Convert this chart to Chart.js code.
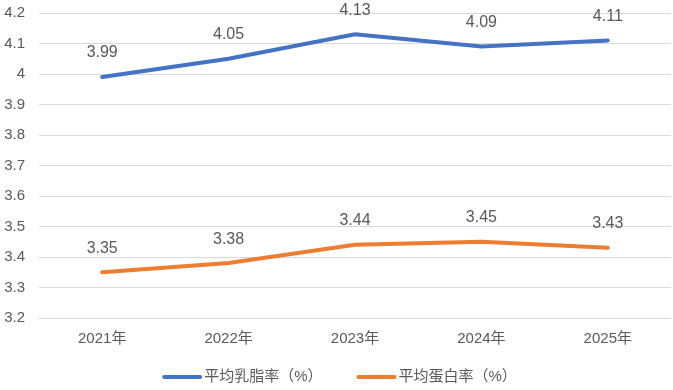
<!DOCTYPE html>
<html><head><meta charset="utf-8">
<script src="https://cdn.jsdelivr.net/npm/chart.js@4"></script>
<style>html,body{margin:0;padding:0;background:#fff}#wrap{width:673px;height:390px}</style>
</head><body><div id="wrap"><canvas id="c"></canvas></div>
<script>
const categories = ['2021年','2022年','2023年','2024年','2025年'];
const fatRate = [3.99, 4.05, 4.13, 4.09, 4.11];
const proteinRate = [3.35, 3.38, 3.44, 3.45, 3.43];
const seriesNames = ['平均乳脂率（%）','平均蛋白率（%）'];

const FONT = '"Liberation Sans", "Noto Sans CJK SC", sans-serif';
const TEXT = '#595959';

const labelPlugin = {
  id: 'valLabels',
  afterDatasetsDraw(chart) {
    const ctx = chart.ctx;
    ctx.save();
    ctx.font = '16px ' + FONT;
    ctx.fillStyle = TEXT;
    ctx.textAlign = 'center';
    ctx.textBaseline = 'middle';
    chart.data.datasets.forEach((ds, i) => {
      chart.getDatasetMeta(i).data.forEach((pt, j) => {
        ctx.fillText(ds.data[j].toFixed(2), pt.x, pt.y - 24);
      });
    });
    ctx.restore();
  }
};

const legendPlugin = {
  id: 'bottomLegend',
  afterDraw(chart) {
    const ctx = chart.ctx;
    ctx.save();
    ctx.font = '15px ' + FONT;
    const lineW = 40, gapText = 2, gapItem = 34;
    const items = chart.data.datasets.map(ds => ({ text: ds.label, color: ds.borderColor, w: ctx.measureText(ds.label).width }));
    let total = items.reduce((s, it) => s + lineW + gapText + it.w, 0) + gapItem * (items.length - 1);
    let x = (chart.width - total) / 2 + 3;
    const y = 377;
    items.forEach(it => {
      ctx.strokeStyle = it.color;
      ctx.lineWidth = 4;
      ctx.lineCap = 'round';
      ctx.beginPath();
      ctx.moveTo(x + 2, y);
      ctx.lineTo(x + lineW - 2, y);
      ctx.stroke();
      ctx.fillStyle = TEXT;
      ctx.textAlign = 'left';
      ctx.textBaseline = 'middle';
      ctx.fillText(it.text, x + lineW + gapText, y);
      x += lineW + gapText + it.w + gapItem;
    });
    ctx.restore();
  }
};

new Chart(document.getElementById('c'), {
  type: 'line',
  data: {
    labels: categories,
    datasets: [
      { label: seriesNames[0], data: fatRate, borderColor: '#4472C4', backgroundColor: '#4472C4', borderWidth: 4, pointRadius: 0, tension: 0, borderCapStyle: 'round' },
      { label: seriesNames[1], data: proteinRate, borderColor: '#ED7D31', backgroundColor: '#ED7D31', borderWidth: 4, pointRadius: 0, tension: 0, borderCapStyle: 'round' }
    ]
  },
  options: {
    responsive: true, maintainAspectRatio: false, animation: false,
    layout: { padding: { left: 0, right: 2, top: 13, bottom: 42 } },
    plugins: {
      legend: { display: false },
      tooltip: { enabled: false }
    },
    scales: {
      x: { offset: true, afterFit(s) { s.height = 30; s.paddingLeft = 0; s.paddingRight = 0; }, grid: { display: false }, border: { display: false }, ticks: { color: TEXT, padding: 4, maxRotation: 0, font: { family: FONT, size: 15 } } },
      y: { min: 3.2, max: 4.2, afterFit(s) { s.width = 39; s.paddingTop = 0; s.paddingBottom = 0; }, ticks: { stepSize: 0.1, padding: 14, color: TEXT, font: { family: FONT, size: 15 }, callback: v => Math.round(v*10)/10 }, grid: { color: '#d9d9d9', lineWidth: 1, drawTicks: false }, border: { display: false } }
    }
  },
  plugins: [labelPlugin, legendPlugin]
});
</script></body></html>
